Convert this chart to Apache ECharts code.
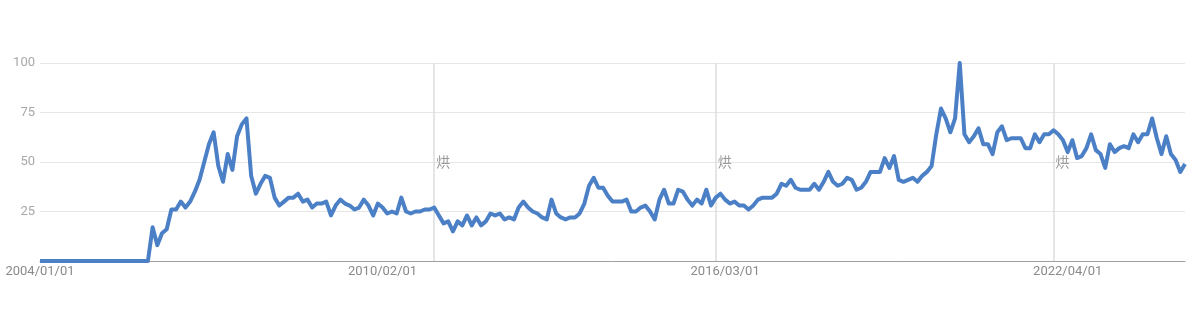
<!DOCTYPE html>
<html>
<head>
<meta charset="utf-8">
<script src="https://cdn.jsdelivr.net/npm/echarts@6/dist/echarts.min.js"></script>
<style>html,body{margin:0;padding:0;background:#fff;}#c{width:1200px;height:311px;}</style>
</head>
<body>
<div id="c"></div>
<script>
// Monthly values, 2004-01 .. 2024-05 (one row per year)
var v2004 = [0,0,0,0,0,0,0,0,0,0,0,0];
var v2005 = [0,0,0,0,0,0,0,0,0,0,0,0];
var v2006 = [17,8,14,16,26,26,30,27,30,35,41,50];
var v2007 = [59,65,48,40,54,46,63,69,72,43,34,39];
var v2008 = [43,42,32,28,30,32,32,34,30,31,27,29];
var v2009 = [29,30,23,28,31,29,28,26,27,31,28,23];
var v2010 = [29,27,24,25,24,32,25,24,25,25,26,26];
var v2011 = [27,23,19,20,15,20,18,23,18,22,18,20];
var v2012 = [24,23,24,21,22,21,27,30,27,25,24,22];
var v2013 = [21,31,24,22,21,22,22,24,29,38,42,37];
var v2014 = [37,33,30,30,30,31,25,25,27,28,25,21];
var v2015 = [31,36,29,29,36,35,31,28,31,29,36,28];
var v2016 = [32,34,31,29,30,28,28,26,28,31,32,32];
var v2017 = [32,34,39,38,41,37,36,36,36,39,36,40];
var v2018 = [45,40,38,39,42,41,36,37,40,45,45,45];
var v2019 = [52,47,53,41,40,41,42,40,43,45,48,64];
var v2020 = [77,72,65,72,100,64,60,63,67,59,59,54];
var v2021 = [65,68,61,62,62,62,57,57,64,60,64,64];
var v2022 = [66,64,61,55,61,52,53,57,64,56,54,47];
var v2023 = [59,55,57,58,57,64,60,64,64,72,62,54];
var v2024 = [63,54,51,45,49];

var values = [].concat(v2004,v2005,v2006,v2007,v2008,v2009,v2010,v2011,v2012,v2013,
  v2014,v2015,v2016,v2017,v2018,v2019,v2020,v2021,v2022,v2023,v2024);

// Categories: months from 2004/01
var categories = [];
for (var k = 0; k < values.length; k++) {
  var y = 2004 + Math.floor(k / 12), m = (k % 12) + 1;
  categories.push(y + '/' + (m < 10 ? '0' + m : m) + '/01');
}

var xTickLabels = ['2004/01/01', '2010/02/01', '2016/03/01', '2022/04/01'];
var yTicks = [0, 25, 50, 75, 100];
var noteMonths = ['2011/01/01', '2016/01/01', '2022/01/01'];
var noteText = '烘';

var chart = echarts.init(document.getElementById('c'), null, {renderer: 'canvas'});
chart.setOption({
  animation: false,
  backgroundColor: '#ffffff',
  textStyle: {fontFamily: 'Roboto'},
  grid: {left: 40, right: 15, top: 63, bottom: 50},
  xAxis: {
    type: 'category',
    data: categories,
    boundaryGap: false,
    axisLine: {show: true, lineStyle: {color: '#9e9e9e', width: 1}},
    axisTick: {show: false},
    splitLine: {show: false},
    axisLabel: {
      interval: function (idx, val) { return xTickLabels.indexOf(val) >= 0; },
      hideOverlap: false,
      color: '#8a8a8a',
      fontSize: 13,
      margin: 4,
      fontFamily: 'Roboto'
    }
  },
  yAxis: {
    type: 'value',
    min: yTicks[0],
    max: yTicks[yTicks.length - 1],
    interval: 25,
    axisLine: {show: false},
    axisTick: {show: false},
    splitLine: {lineStyle: {color: '#e6e6e6', width: 1}},
    axisLabel: {
      color: '#a8a8a8',
      fontSize: 13,
      margin: 5,
      fontFamily: 'Roboto',
      formatter: function (val) { return val === 0 ? '' : String(val); }
    }
  },
  series: [{
    type: 'line',
    data: values,
    showSymbol: false,
    symbol: 'none',
    lineStyle: {color: '#4b7fc6', width: 4, join: 'round'},
    itemStyle: {color: '#4b7fc6'},
    z: 3,
    markLine: {
      silent: true,
      symbol: ['none', 'none'],
      label: {show: false},
      lineStyle: {color: '#dcdcdc', width: 1.5, type: 'solid'},
      data: noteMonths.map(function (d) { return {xAxis: d}; }),
      z: 1
    },
    markPoint: {
      silent: true,
      symbol: 'circle',
      symbolSize: 0,
      data: noteMonths.map(function (d) {
        return {
          coord: [d, 50],
          label: {
            show: true,
            formatter: noteText,
            position: 'right',
            distance: 2,
            color: '#9a9a9a',
            fontSize: 14,
            fontFamily: 'Noto Sans CJK SC'
          }
        };
      })
    }
  }]
});
</script>
</body>
</html>
